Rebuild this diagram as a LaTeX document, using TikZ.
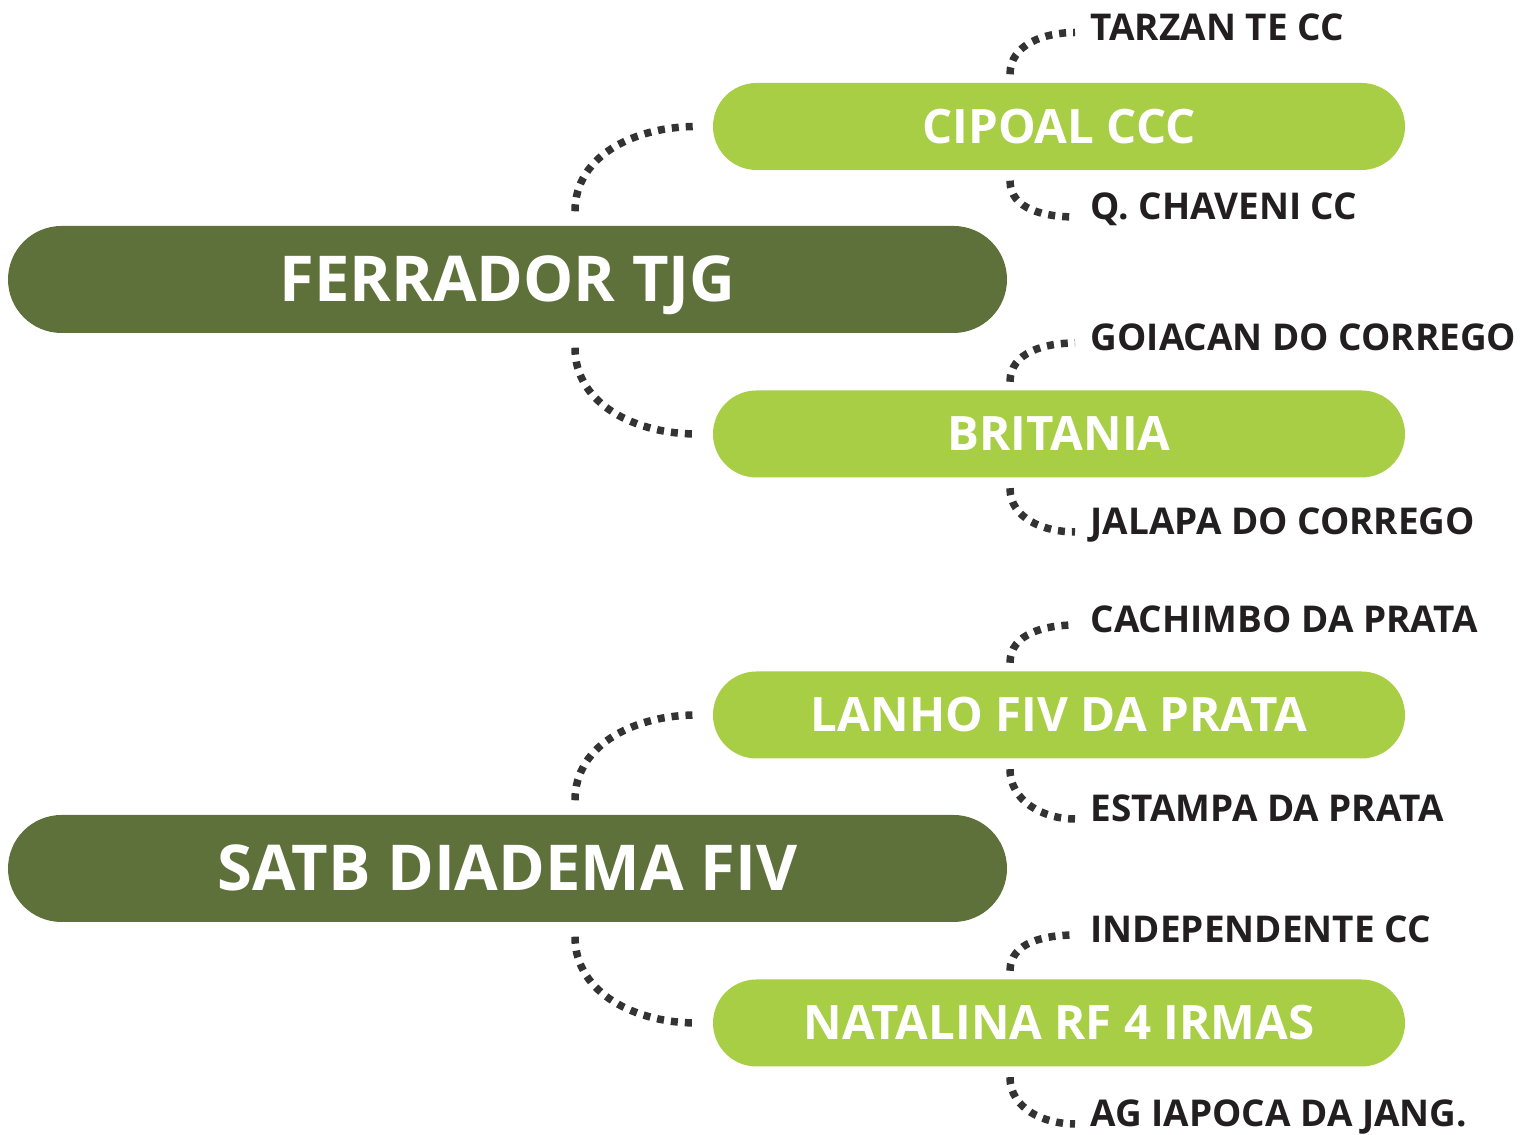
\documentclass[tikz,border=0pt]{standalone}
\usepackage{fontspec}
\setmainfont{Open Sans}
\usepackage{tikz}
\usetikzlibrary{positioning}
\definecolor{darkolive}{RGB}{94,113,59}
\definecolor{lightlime}{RGB}{168,206,70}
\definecolor{dotgray}{RGB}{51,51,51}
\definecolor{labelblack}{RGB}{35,31,32}

\begin{document}
\begin{tikzpicture}
  \tikzset{rootpill/.style = {shape=rectangle, rounded corners=0.535cm, fill=darkolive, text=white, minimum width=9.99cm, minimum height=1.07cm, inner sep=0pt, text height=0.45cm, text depth=0pt, font=\bfseries\fontsize{18}{18}\selectfont}}
    \tikzset{branchpill/.style = {shape=rectangle, rounded corners=0.435cm, fill=lightlime, text=white, minimum width=6.92cm, minimum height=0.87cm, inner sep=0pt, text height=0.34cm, text depth=0pt, font=\bfseries\fontsize{13.5}{13.5}\selectfont}}
        \tikzset{leaf/.style = {anchor=west, inner sep=0pt, text=labelblack, text height=0.26cm, text depth=0pt, font=\bfseries\fontsize{10.5}{10.5}\selectfont}}
  \tikzset{dotlink/.style = {draw=dotgray, line width=0.075cm, dash pattern=on 0.07cm off 0.07cm}}

  \useasboundingbox (0,0) rectangle (15.29,11.35);

	\node[rootpill] (ferrador) at (5.075,8.555) {FERRADOR TJG};
	\node[rootpill] (satb) at (5.075,2.665) {SATB DIADEMA FIV};

	\node[branchpill] (cipoal) at (10.59,10.085) {CIPOAL CCC};
	\node[branchpill] (britania) at (10.59,7.01) {BRITANIA};
	\node[branchpill] (lanho) at (10.59,4.2) {LANHO FIV DA PRATA};
	\node[branchpill] (natalina) at (10.59,1.12) {NATALINA RF 4 IRMAS};

	\node[leaf] (tarzan) at (10.9,11.075) {TARZAN TE CC};
	\node[leaf] (chaveni) at (10.9,9.28) {Q. CHAVENI CC};
	\node[leaf] (goiacan) at (10.9,7.97) {GOIACAN DO CORREGO};
	\node[leaf] (jalapa) at (10.9,6.13) {JALAPA DO CORREGO};
	\node[leaf] (cachimbo) at (10.9,5.15) {CACHIMBO DA PRATA};
	\node[leaf] (estampa) at (10.9,3.26) {ESTAMPA DA PRATA};
	\node[leaf] (independente) at (10.9,2.05) {INDEPENDENTE CC};
	\node[leaf] (iapoca) at (10.9,0.21) {AG IAPOCA DA JANG.};

    \foreach \from/\to in {ferrador/cipoal, satb/lanho}
    \path[dotlink] ([shift={(0.675,0.14)}]\from.north) to[out=90,in=180] ([xshift=-0.16cm]\to.west);

    \foreach \from/\to in {ferrador/britania, satb/natalina}
    \path[dotlink] ([shift={(0.675,-0.14)}]\from.south) to[out=-90,in=180] ([xshift=-0.16cm]\to.west);

    \foreach \from/\to in {cipoal/tarzan, britania/goiacan, lanho/cachimbo, natalina/independente}
    \path[dotlink] ([shift={(-0.49,0.08)}]\from.north) to[out=90,in=180] ([shift={(-0.15,-0.05)}]\to.west);

    \foreach \from/\to in {cipoal/chaveni, britania/jalapa, lanho/estampa, natalina/iapoca}
    \path[dotlink] ([shift={(-0.49,-0.1)}]\from.south) to[out=-90,in=180] ([shift={(-0.15,-0.1)}]\to.west);

\end{tikzpicture}
\end{document}
